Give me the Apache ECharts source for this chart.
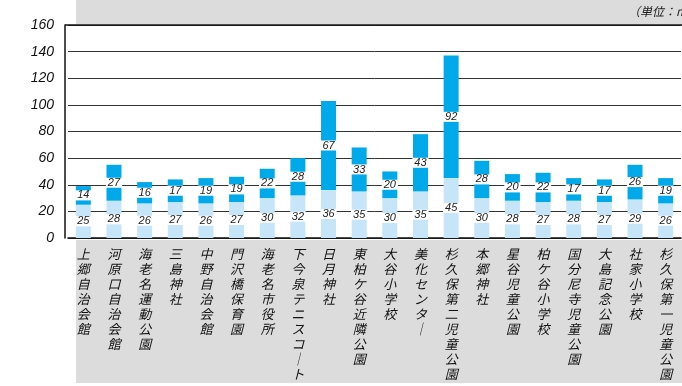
<!DOCTYPE html>
<html>
<head>
<meta charset="utf-8">
<script src="https://cdn.jsdelivr.net/npm/echarts@6/dist/echarts.min.js"></script>
<style>html,body{margin:0;padding:0;background:#fff;}#c{width:682px;height:386px;}</style>
</head>
<body>
<div id="c"></div>
<script>
const categories = ['上郷自治会館','河原口自治会館','海老名運動公園','三島神社','中野自治会館','門沢橋保育園','海老名市役所','下今泉テニスコート','日月神社','東柏ケ谷近隣公園','大谷小学校','美化センター','杉久保第二児童公園','本郷神社','星谷児童公園','柏ケ谷小学校','国分尼寺児童公園','大島記念公園','社家小学校','杉久保第一児童公園'];
const lowerValues = [25,28,26,27,26,27,30,32,36,35,30,35,45,30,28,27,28,27,29,26];
const upperValues = [14,27,16,17,19,19,22,28,67,33,20,43,92,28,20,22,17,17,26,19];
const yTicks = [0,20,40,60,80,100,120,140,160];
const unitText = '（単位：m³）';

const chart = echarts.init(document.getElementById('c'));
const labelStyle = {
  show: true, position: 'inside', backgroundColor: '#fff', padding: [0, 2],
  fontStyle: 'italic', fontSize: 11, color: '#222', fontFamily: 'Liberation Sans', lineHeight: 10
};
chart.setOption({
  animation: false,
  graphic: [
    { type: 'rect', z: -10, shape: { x: 76, y: 0, width: 606, height: 24 }, style: { fill: '#dcdcdc' } },
    { type: 'rect', z: -10, shape: { x: 76, y: 240, width: 606, height: 143 }, style: { fill: '#dcdcdc' } },
    { type: 'text', x: 628, y: 5, style: { text: unitText, fontSize: 12, fontStyle: 'italic', fill: '#222', fontFamily: 'Noto Sans CJK JP' } },
    { type: 'line', z: 10, shape: { x1: 65, y1: 25, x2: 682, y2: 25 }, style: { stroke: '#111', lineWidth: 1.5 } }
  ],
  grid: { left: 68, right: 1, top: 25, bottom: 148 },
  xAxis: {
    type: 'category', data: categories,
    axisLine: { show: true, lineStyle: { color: '#111', width: 1.5 } },
    axisTick: { show: false },
    axisLabel: {
      interval: 0, margin: 9, fontSize: 13, lineHeight: 15, fontStyle: 'italic', color: '#111',
      fontFamily: 'Noto Sans CJK JP', verticalAlign: 'top',
      formatter: v => v.split('').map(c => c === 'ー' ? '｜' : c).join('\n')
    }
  },
  yAxis: {
    type: 'value', min: 0, max: 160, interval: 20, offset: 3,
    axisLine: { show: true, lineStyle: { color: '#111', width: 1.5 } },
    axisTick: { show: false },
    axisLabel: { margin: 11, fontSize: 14, fontStyle: 'italic', color: '#111', fontFamily: 'Liberation Sans',
      formatter: v => yTicks.includes(v) ? String(v) : '' },
    splitLine: { show: true, lineStyle: { color: '#333', width: 1 } }
  },
  series: [
    { type: 'bar', stack: 's', data: lowerValues, barWidth: 15, itemStyle: { color: '#c6e5f9' }, label: labelStyle },
    { type: 'bar', stack: 's', data: upperValues, barWidth: 15, itemStyle: { color: '#00a9ea' }, label: labelStyle }
  ]
});
</script>
</body>
</html>
